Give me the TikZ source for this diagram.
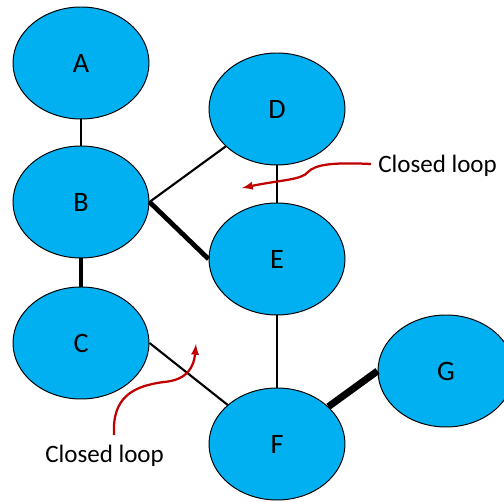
\documentclass[tikz,border=0pt]{standalone}
\usepackage{fontspec}
\setmainfont{Carlito}
\usepackage{xcolor}
\usetikzlibrary{shapes.geometric}

\definecolor{nodeblue}{HTML}{00B0F0}
\definecolor{loopred}{HTML}{C00000}

\tikzset{
  vert/.style={ellipse, draw=black, line width=0.7pt, fill=nodeblue,
    minimum width=3.4cm, minimum height=2.8cm, inner sep=0pt,
    font=\fontsize{20}{24}\selectfont},
  link/.style={line width=1.5pt},
  heavy/.style={line width=3.4pt},
  loopnote/.style={anchor=base west, inner sep=0pt, font=\fontsize{17.8}{21}\selectfont},
  looparrow/.style={color=loopred, line width=1.6pt, -latex}
}

\begin{document}
\begin{tikzpicture}
\clip (0, 0) rectangle (12.6, 12.55);
\node[vert] (A) at (2.025, 10.975) {A};
\node[vert] (B) at (2.025, 7.5) {B};
\node[vert] (C) at (2.025, 3.975) {C};
\node[vert] (D) at (6.925, 9.825) {D};
\node[vert] (E) at (6.925, 6.075) {E};
\node[vert] (F) at (6.925, 1.45) {F};
\node[vert] (G) at (11.15, 3.275) {G};

\draw [link] (A) -- (B);
\draw [heavy] (B) -- (C);
\draw [link] (B.east) -- (D);
\draw [heavy] (B.east) -- (E.west);
\draw [link] (D) -- (E);
\draw [link] (E) -- (F);
\draw [link] (C.east) -- (F);
\draw [heavy, line width=5pt] (G.west) -- (F);

% the two loop notes
\node[loopnote] (loopDE) at (9.45, 8.225) {Closed loop};
\node[loopnote] (loopCF) at (1.125, 0.975) {Closed loop};
\coordinate (tipDE) at (6.05, 7.85);
\coordinate (tailCF) at (2.85, 1.675);
\coordinate (tipCF) at (4.9, 3.95);

\draw [looparrow] ([xshift=-5pt]loopDE.west |- 0, 8.45) .. controls (8.25, 8.5) and (7.875, 8.425) .. (7.7, 8.25)
  .. controls (7.55, 8.05) and (7, 8.05) .. (tipDE);
\draw [looparrow] (tailCF) .. controls (2.8, 2.6) and (3.3, 2.9) .. (4.1, 3.0)
  .. controls (4.7, 3.05) and (4.85, 3.4) .. (tipCF);
\end{tikzpicture}
\end{document}
